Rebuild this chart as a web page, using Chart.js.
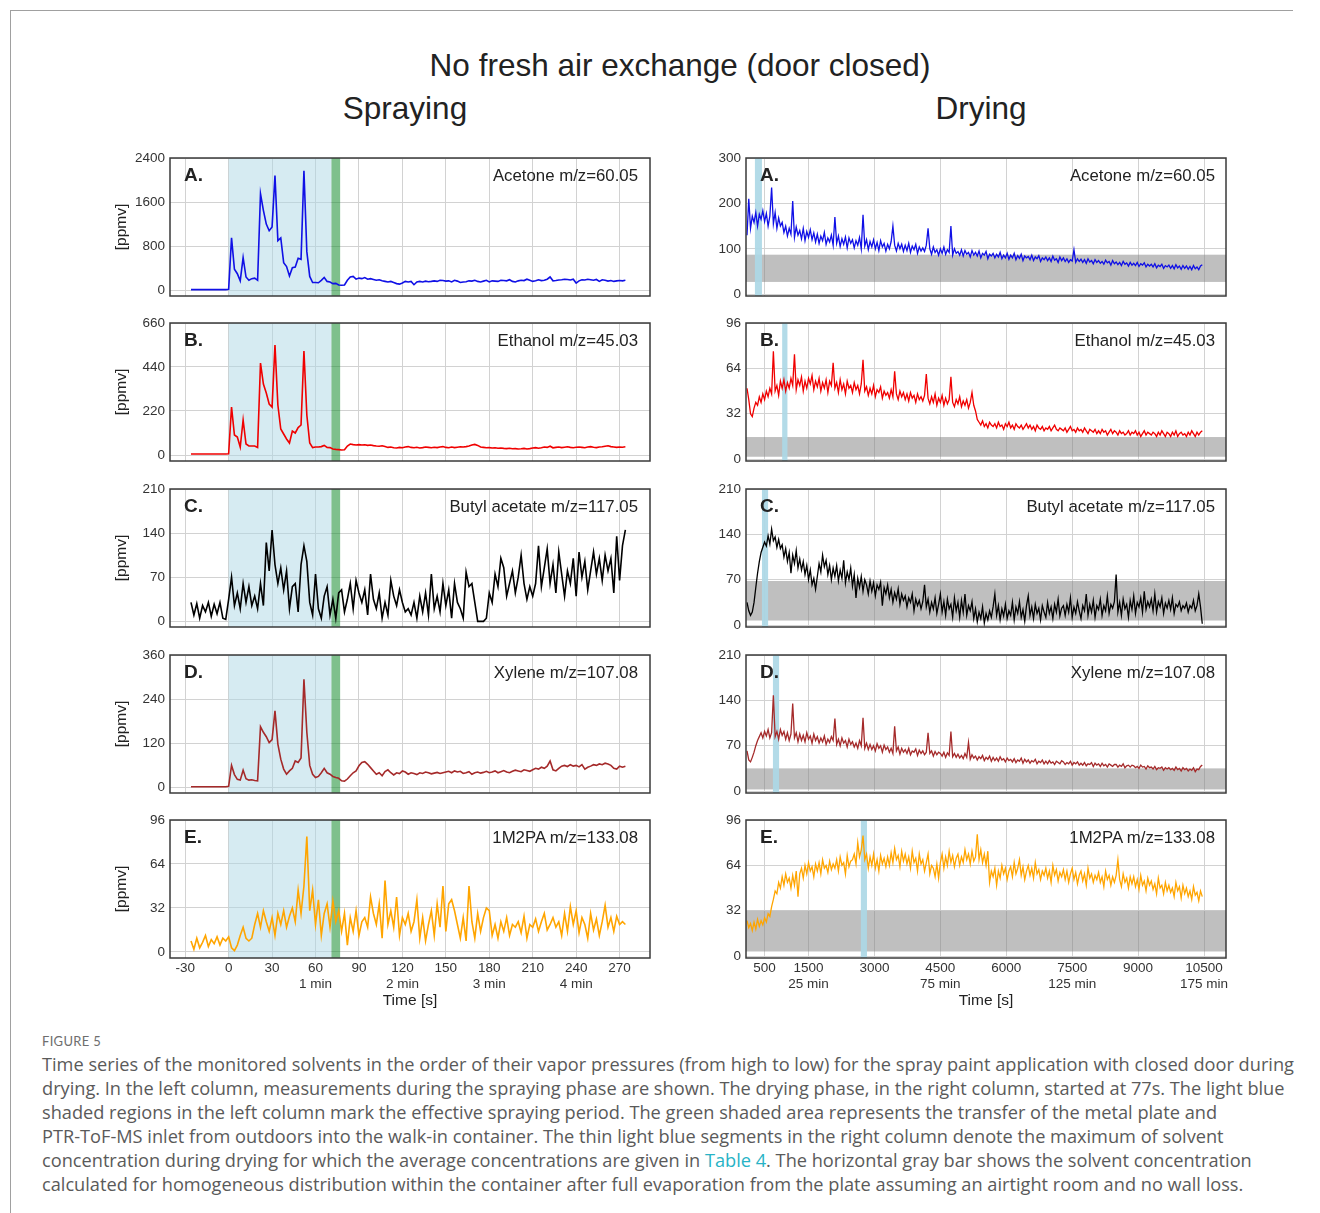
<!DOCTYPE html>
<html>
<head>
<meta charset="utf-8">
<script src="https://cdn.jsdelivr.net/npm/chart.js@4.4.1/dist/chart.umd.min.js"></script>
<style>
  body { margin: 0; background: #fff; width: 1320px; height: 1213px; position: relative; overflow: hidden;
         font-family: "Liberation Sans", Arial, sans-serif; }
  .frame { position: absolute; left: 10px; top: 10px; width: 1282px; height: 1220px;
           border-top: 1.5px solid #a0a0a0; border-left: 1.5px solid #a0a0a0; }
  .wrap { position: absolute; }
  .txt { position: absolute; white-space: nowrap; color: #222; transform: translateY(-50%); }
  .ctr { transform: translate(-50%, -50%); }
  .letter { font-weight: bold; font-size: 19px; color: #222; }
  .species { font-size: 16.8px; color: #222; }
  .fig { position: absolute; left: 42px; top: 1033px; font-family: Lato, "Open Sans", sans-serif;
         font-size: 13px; color: #6e6e6e; letter-spacing: 0.3px; }
  .cap { position: absolute; left: 42px; top: 1052px; font-family: "Open Sans", Lato, sans-serif;
         font-size: 18.2px; line-height: 24px; color: #5a5a5a; white-space: nowrap; }
  .cap a { color: #27b3c6; text-decoration: none; }
</style>
</head>
<body>
<div class="frame"></div>
<div class="txt ctr" style="left:680px;top:65px;font-size:31.5px;">No fresh air exchange (door closed)</div>
<div class="txt ctr" style="left:405px;top:108px;font-size:31.5px;">Spraying</div>
<div class="txt ctr" style="left:981px;top:108px;font-size:31.5px;">Drying</div>

<div class="fig">FIGURE 5</div>
<div class="cap">Time series of the monitored solvents in the order of their vapor pressures (from high to low) for the spray paint application with closed door during<br>drying. In the left column, measurements during the spraying phase are shown. The drying phase, in the right column, started at 77s. The light blue<br>shaded regions in the left column mark the effective spraying period. The green shaded area represents the transfer of the metal plate and<br>PTR-ToF-MS inlet from outdoors into the walk-in container. The thin light blue segments in the right column denote the maximum of solvent<br>concentration during drying for which the average concentrations are given in <a>Table 4</a>. The horizontal gray bar shows the solvent concentration<br>calculated for homogeneous distribution within the container after full evaporation from the plate assuming an airtight room and no wall loss.</div>

<script>
// ---- spraying phase: samples every 2 s starting at -26 s ----
const sprayStart = -26;
const sprayStep = 2;

const acetoneSpray = [
  10,10,10,10,10,10,10,10,10,10,
  10,10,10,15,950,380,300,170,590,240,
  180,210,220,180,1750,1450,1200,1080,1150,2080,
  900,950,500,430,260,410,420,580,560,2170,
  700,250,140,140,135,180,230,160,150,120,
  125,95,90,95,180,240,250,200,220,210,
  230,200,210,195,180,190,170,160,150,160,
  140,120,110,130,160,150,160,100,150,160,
  150,165,155,160,170,160,180,175,165,170,
  150,180,165,140,150,155,170,165,180,160,
  150,165,180,150,170,165,160,180,175,170,
  190,160,150,170,180,175,200,180,160,170,
  190,175,180,200,240,170,175,185,190,200,
  195,185,200,130,170,190,185,200,190,180,
  195,160,190,180,165,175,160,170,175,170,
  180
];
const ethanolSpray = [
  5,5,5,5,5,5,5,5,5,5,
  5,5,5,6,240,100,90,40,175,55,
  45,45,45,38,460,355,310,255,240,550,
  250,130,105,80,60,120,110,137,150,520,
  200,60,37,40,40,42,48,38,37,30,
  28,27,25,26,45,55,52,50,52,50,
  51,48,50,47,45,44,46,42,38,40,
  36,35,38,36,40,42,38,36,39,35,
  37,40,38,36,39,37,40,42,38,36,
  40,37,39,41,40,42,45,50,53,48,
  40,38,36,37,35,36,34,35,33,32,
  34,31,32,30,31,33,30,32,35,37,
  34,36,40,38,44,36,38,40,37,39,
  41,38,36,39,40,38,36,40,42,39,
  37,40,41,44,46,42,40,38,40,39,
  41
];
const butylAcetateSpray = [
  30,10,28,5,25,15,30,8,27,12,
  30,5,3,35,70,25,45,20,60,30,
  55,25,40,20,60,25,125,80,145,90,
  60,85,50,80,20,55,60,15,90,120,
  95,30,10,75,20,5,40,55,10,35,
  5,45,50,15,35,60,20,65,45,30,
  50,10,75,35,20,45,5,30,10,65,
  40,25,50,30,15,20,10,30,5,40,
  15,45,10,75,20,40,15,60,25,50,
  5,60,30,20,5,78,55,60,30,0,
  0,0,5,45,30,75,55,100,85,40,
  60,80,45,70,105,60,35,55,40,60,
  120,55,85,115,60,90,45,110,75,40,
  80,60,100,40,110,70,95,50,80,110,
  75,100,65,105,80,100,45,135,65,120,
  145
];
const xyleneSpray = [
  2,2,2,2,2,2,2,2,2,2,
  2,2,2,3,60,35,22,20,47,24,
  20,21,19,18,165,150,138,122,130,208,
  118,77,50,36,45,52,72,68,80,294,
  150,60,36,27,30,40,52,40,36,30,
  27,25,18,17,23,32,40,45,59,68,
  70,63,54,45,36,40,32,43,48,40,
  34,40,38,45,42,36,40,38,35,40,
  38,42,40,37,39,41,38,40,42,44,
  40,45,42,44,38,40,43,36,40,42,
  39,41,44,40,42,45,40,43,46,42,
  40,44,47,45,43,48,46,44,48,52,
  50,55,52,58,72,48,45,52,58,60,
  57,62,58,60,56,62,50,55,58,62,
  60,64,62,66,64,60,52,50,58,55,
  58
];
const m2paSpray = [
  8,2,10,3,7,12,4,9,6,11,
  5,10,8,11,3,1,5,12,18,10,
  8,10,20,28,18,30,22,15,25,12,
  28,20,30,18,26,32,22,45,28,48,
  84,30,45,20,38,12,28,35,18,37,
  22,30,15,28,5,25,15,30,12,22,
  25,18,40,28,20,35,10,52,20,30,
  18,40,12,25,20,28,15,22,38,10,
  25,8,20,30,12,35,18,48,15,35,
  38,30,20,10,25,8,48,22,10,28,
  15,25,32,30,12,20,10,22,15,25,
  12,20,18,22,14,26,10,20,18,24,
  15,22,28,16,20,25,18,22,12,28,
  15,33,20,30,14,25,20,10,28,16,
  24,12,22,34,18,25,15,26,20,22,
  20
];

// ---- drying phase: samples every 40 s starting at 100 s ----
const dryStart = 100;
const dryStep = 40;

const acetoneDry = [
  130,210,145,172,158,180,150,176,165,184,
  160,178,150,172,235,155,180,145,168,150,
  158,136,150,128,145,132,205,125,148,130,
  140,122,145,118,138,125,142,120,135,115,
  132,112,128,118,136,110,124,115,130,108,
  170,112,128,105,122,110,126,102,124,112,
  120,102,118,108,125,100,175,106,120,98,
  116,104,120,100,114,96,118,104,112,95,
  110,100,116,150,108,95,112,100,110,94,
  108,96,112,92,106,98,110,90,104,95,
  102,94,108,145,100,88,104,92,98,86,
  100,90,104,88,98,92,150,86,100,90,
  94,86,98,84,96,88,92,82,96,86,
  92,84,95,80,90,86,94,78,88,84,
  90,80,88,82,92,78,86,80,90,77,
  86,80,90,76,85,79,88,74,84,80,
  83,76,86,74,82,78,85,72,80,76,
  82,74,80,72,84,75,78,70,82,74,
  80,72,78,70,76,73,98,70,78,72,
  77,70,76,68,78,71,74,67,76,70,
  74,68,72,66,75,69,72,64,74,67,
  71,65,70,63,72,66,69,62,70,64,
  68,63,70,61,67,64,69,60,66,62,
  66,60,67,58,64,61,66,57,63,60,
  64,57,63,56,65,58,62,55,63,57,
  62,55,61,54,63,56,60,54,62,65
];
const ethanolDry = [
  50,42,32,30,36,40,38,44,40,46,
  42,48,44,50,46,76,48,52,45,55,
  50,56,48,54,50,57,52,74,49,56,
  52,58,48,55,50,57,53,59,49,55,
  51,57,48,54,50,56,47,55,52,68,
  50,54,47,56,49,53,46,55,50,52,
  47,54,49,52,46,53,70,48,51,45,
  50,46,52,44,49,47,51,43,48,45,
  47,43,49,44,62,46,42,48,44,47,
  42,46,41,47,43,45,40,46,42,44,
  41,45,60,43,39,44,40,46,38,43,
  40,45,38,43,39,42,58,40,37,42,
  39,44,37,41,38,42,36,40,47,38,
  34,28,26,24,27,23,25,22,26,24,
  23,25,22,26,23,24,21,25,23,26,
  22,24,21,25,23,22,24,21,23,25,
  22,24,21,23,20,24,22,21,23,20,
  22,21,23,20,22,24,21,20,22,21,
  20,22,19,21,23,20,21,19,22,20,
  21,19,22,20,18,21,20,19,21,18,
  20,18,21,19,20,17,19,21,18,20,
  19,17,20,18,19,17,18,20,17,19,
  18,20,17,19,16,18,20,17,19,18,
  17,19,18,16,19,17,20,18,16,19,
  18,16,19,17,20,16,18,19,17,18,
  16,19,17,20,18,16,19,17,19,20
];
const butylAcetateDry = [
  35,22,15,20,35,58,80,98,112,120,
  128,122,138,125,148,130,136,120,132,118,
  124,105,118,98,112,80,108,95,115,88,
  102,85,98,78,92,70,85,62,72,55,
  75,95,82,108,90,100,78,92,70,88,
  75,92,68,85,72,100,65,82,70,88,
  60,78,42,72,58,75,52,70,62,48,
  68,52,65,45,62,55,66,30,58,48,
  62,42,55,35,50,40,56,32,48,38,
  45,28,42,35,48,22,40,30,38,25,
  36,62,28,40,20,35,25,42,18,32,
  48,20,36,15,40,25,32,12,42,22,
  35,12,38,20,48,15,30,22,36,10,
  25,5,20,10,28,3,18,8,22,12,
  28,48,15,30,8,25,14,32,10,22,
  15,35,8,28,18,36,12,24,6,30,
  45,15,28,10,32,18,26,8,30,20,
  12,35,18,28,10,32,20,40,14,26,
  30,15,32,20,42,12,28,18,36,22,
  10,30,22,48,15,32,20,38,12,30,
  24,40,15,30,22,45,18,32,26,36,
  78,20,35,15,40,25,32,12,38,24,
  45,18,35,28,42,20,52,24,36,28,
  40,22,48,20,36,28,42,18,34,26,
  38,24,42,18,32,28,36,22,30,26,
  34,20,30,26,38,22,30,48,28,2
];
const xyleneDry = [
  62,48,45,52,60,70,78,84,90,82,
  92,85,95,82,90,148,84,92,80,95,
  86,92,80,90,78,88,135,82,90,76,
  88,78,86,76,90,80,85,74,88,78,
  84,74,82,76,85,72,80,75,84,78,
  112,72,80,70,82,74,78,68,80,72,
  76,68,74,66,78,70,113,66,74,64,
  72,64,70,62,73,66,70,60,71,64,
  68,60,66,58,100,62,68,57,66,60,
  64,58,66,56,62,60,65,55,63,58,
  62,56,60,90,58,62,54,61,56,60,
  58,54,60,52,59,55,92,53,58,52,
  57,51,55,50,58,52,75,49,56,51,
  54,48,53,50,55,47,52,49,54,46,
  52,47,51,46,53,48,50,45,51,47,
  49,45,50,44,48,46,51,43,49,45,
  48,43,47,45,49,42,46,44,48,42,
  46,42,47,43,45,41,46,44,42,47,
  45,41,44,42,46,40,44,42,45,40,
  43,40,44,39,42,41,44,38,43,40,
  42,38,43,39,41,37,42,40,38,41,
  41,37,40,38,42,36,39,40,37,40,
  39,36,38,35,40,37,38,34,39,36,
  37,34,38,33,36,35,37,32,36,34,
  36,33,35,32,37,33,35,31,36,33,
  35,31,34,32,36,30,34,33,38,40
];
const m2paDry = [
  25,20,23,18,24,19,26,21,25,22,
  27,24,30,28,35,40,46,44,52,48,
  56,50,58,52,55,48,57,50,60,42,
  58,62,55,64,58,66,60,63,56,65,
  60,66,58,68,62,64,59,67,61,65,
  62,68,60,70,64,66,58,71,63,67,
  68,72,65,80,70,75,85,68,72,62,
  70,64,72,62,68,60,71,65,69,63,
  70,64,73,66,76,68,71,63,74,67,
  72,65,70,62,74,66,69,60,72,65,
  68,60,66,72,58,64,62,56,65,55,
  66,72,62,70,64,74,66,71,63,69,
  72,64,70,66,75,68,72,65,74,67,
  70,86,68,75,66,72,64,74,52,60,
  56,62,50,60,55,64,58,62,54,60,
  63,56,66,58,62,68,57,63,54,60,
  64,57,62,55,66,58,61,54,60,57,
  62,55,60,52,64,57,61,53,59,56,
  61,54,60,52,58,62,54,59,51,57,
  60,53,58,50,62,55,58,52,57,54,
  59,52,56,49,60,54,57,50,56,52,
  57,68,54,49,58,52,55,48,56,51,
  56,49,54,47,57,50,53,46,55,50,
  53,47,51,44,55,48,50,44,52,46,
  50,45,48,42,52,46,49,41,50,44,
  48,42,46,40,49,43,45,39,46,42
];

// ---- axes, labels, shaded periods ----
const letters = ['A.', 'B.', 'C.', 'D.', 'E.'];
const species = ['Acetone m/z=60.05', 'Ethanol m/z=45.03', 'Butyl acetate m/z=117.05',
                 'Xylene m/z=107.08', '1M2PA m/z=133.08'];
const lineColors = ['#1010e6', '#f00000', '#000000', '#a52a2a', '#ffa500'];

const sprayYTicks = [[0, 800, 1600, 2400], [0, 220, 440, 660], [0, 70, 140, 210], [0, 120, 240, 360], [0, 32, 64, 96]];
const sprayYMin = [-105, -30, -9, -15, -4.4];
const dryYTicks = [[0, 100, 200, 300], [0, 32, 64, 96], [0, 70, 140, 210], [0, 70, 140, 210], [0, 32, 64, 96]];
const dryYMin = [-4, -1.3, -3, -3, -1.3];

const sprayXTicks = [-30, 0, 30, 60, 90, 120, 150, 180, 210, 240, 270];
const sprayMinutes = {60: '1 min', 120: '2 min', 180: '3 min', 240: '4 min'};
const dryXTicks = [500, 1500, 3000, 4500, 6000, 7500, 9000, 10500];
const dryMinutes = {1500: '25 min', 4500: '75 min', 7500: '125 min', 10500: '175 min'};

const sprayPeriod = [0, 71];      // effective spraying (light blue)
const transferPeriod = [71, 77];  // plate transfer (green)
const dryMaxWindows = [[280, 440], [900, 1020], [440, 580], [690, 830], [2690, 2830]];
const homogeneousBands = [[27, 87], [1.7, 15.6], [7, 68], [2.5, 35], [3.3, 32]];

const sprayValues = [acetoneSpray, ethanolSpray, butylAcetateSpray, xyleneSpray, m2paSpray];
const dryValues = [acetoneDry, ethanolDry, butylAcetateDry, xyleneDry, m2paDry];

// ---- layout ----
const rowTops = [158, 323, 489, 655, 820];
const plotHeight = 138;
const gridColor = '#d2d2d2';
const tickFont = {family: '"Liberation Sans", Arial, sans-serif', size: 13.5};

Chart.defaults.font.family = '"Liberation Sans", Arial, sans-serif';
Chart.defaults.color = '#333';

// shaded periods are drawn over the grid but under the traces, frame on top
const shadePlugin = {
  id: 'shade',
  beforeDatasetsDraw(chart, args, opts) {
    const {ctx, chartArea: a, scales: {x, y}} = chart;
    ctx.save();
    ctx.beginPath();
    ctx.rect(a.left, a.top, a.width, a.height);
    ctx.clip();
    (opts.spans || []).forEach(s => {
      const x0 = s.x0 == null ? a.left : x.getPixelForValue(s.x0);
      const x1 = s.x1 == null ? a.right : x.getPixelForValue(s.x1);
      const yTop = s.y1 == null ? a.top : y.getPixelForValue(s.y1);
      const yBot = s.y0 == null ? a.bottom : y.getPixelForValue(s.y0);
      ctx.fillStyle = s.color;
      ctx.fillRect(x0, yTop, x1 - x0, yBot - yTop);
    });
    ctx.restore();
  },
  afterDraw(chart) {
    const {ctx, chartArea: a} = chart;
    ctx.save();
    ctx.strokeStyle = '#3a3a3a';
    ctx.lineWidth = 1.5;
    ctx.strokeRect(a.left, a.top, a.width, a.height);
    ctx.restore();
  }
};

function addText(cls, text, left, top, right) {
  const d = document.createElement('div');
  d.className = 'txt ' + cls;
  d.textContent = text;
  d.style.top = top + 'px';
  if (right) d.style.right = (1320 - left) + 'px';
  else d.style.left = left + 'px';
  document.body.appendChild(d);
}

function makePanel(col, row) {
  const isSpray = col === 'spray';
  const bottomRow = row === 4;
  const start = isSpray ? sprayStart : dryStart;
  const step = isSpray ? sprayStep : dryStep;
  const vals = isSpray ? sprayValues[row] : dryValues[row];
  const pts = vals.map((v, i) => ({x: start + step * i, y: v}));
  const yTicks = isSpray ? sprayYTicks[row] : dryYTicks[row];
  const xTicks = isSpray ? sprayXTicks : dryXTicks;
  const minutes = isSpray ? sprayMinutes : dryMinutes;

  const left = isSpray ? 105 : 694;
  const width = isSpray ? 560 : 547;
  const yWidth = isSpray ? 65 : 52;
  const xHeight = bottomRow ? 52 : 10;
  const height = 10 + plotHeight + xHeight;
  const top = rowTops[row] - 10;

  const spans = isSpray
    ? [{x0: sprayPeriod[0], x1: sprayPeriod[1], color: 'rgba(173,216,230,0.5)'},
       {x0: transferPeriod[0], x1: transferPeriod[1], color: 'rgba(20,140,45,0.55)'}]
    : [{y0: homogeneousBands[row][0], y1: homogeneousBands[row][1], color: 'rgba(128,128,128,0.5)'},
       {x0: dryMaxWindows[row][0], x1: dryMaxWindows[row][1], color: 'rgba(173,216,230,0.92)'}];

  const wrap = document.createElement('div');
  wrap.className = 'wrap';
  wrap.style.cssText = `left:${left}px;top:${top}px;width:${width}px;height:${height}px;`;
  const canvas = document.createElement('canvas');
  canvas.width = width;
  canvas.height = height;
  canvas.style.width = width + 'px';
  canvas.style.height = height + 'px';
  wrap.appendChild(canvas);
  document.body.appendChild(wrap);

  new Chart(canvas, {
    type: 'line',
    data: {
      datasets: [{
        data: pts,
        borderColor: lineColors[row],
        borderWidth: isSpray ? 1.6 : 1.3,
        pointRadius: 0,
        tension: 0,
        fill: false
      }]
    },
    options: {
      responsive: false,
      animation: false,
      events: [],
      layout: {padding: {top: 10, right: 15, left: 0, bottom: 0}},
      plugins: {
        legend: {display: false},
        tooltip: {enabled: false},
        shade: {spans}
      },
      scales: {
        x: {
          type: 'linear',
          min: isSpray ? -40.5 : 77,
          max: isSpray ? 291 : 11000,
          afterBuildTicks: s => { s.ticks = xTicks.map(v => ({value: v})); },
          afterFit: s => { s.height = xHeight; s.paddingLeft = 0; s.paddingRight = 0; },
          border: {display: false},
          grid: {color: gridColor, lineWidth: 1, drawTicks: false},
          ticks: {
            display: bottomRow,
            autoSkip: false,
            maxRotation: 0,
            padding: 2,
            color: '#333',
            font: tickFont,
            callback: v => minutes[v] ? [String(v), minutes[v]] : String(v)
          },
          title: {
            display: bottomRow,
            text: 'Time [s]',
            color: '#222',
            font: {size: 15.5},
            padding: {top: 1, bottom: 0}
          }
        },
        y: {
          min: isSpray ? sprayYMin[row] : dryYMin[row],
          max: yTicks[yTicks.length - 1],
          afterBuildTicks: s => { s.ticks = yTicks.map(v => ({value: v})); },
          afterFit: s => { s.width = yWidth; s.paddingTop = 0; s.paddingBottom = 0; },
          border: {display: false},
          grid: {color: gridColor, lineWidth: 1, drawTicks: false},
          ticks: {padding: 5, color: '#333', font: tickFont, callback: v => String(v)},
          title: {
            display: isSpray,
            text: '[ppmv]',
            color: '#222',
            font: {size: 15.5},
            padding: {top: 7, bottom: 0}
          }
        }
      }
    },
    plugins: [shadePlugin]
  });

  const letterLeft = isSpray ? 184 : 760;
  const labelRight = isSpray ? 638 : 1215;
  addText('letter', letters[row], letterLeft, rowTops[row] + 17, false);
  addText('species', species[row], labelRight, rowTops[row] + 18, true);
}

for (let r = 0; r < 5; r++) {
  makePanel('spray', r);
  makePanel('dry', r);
}
</script>
</body>
</html>
